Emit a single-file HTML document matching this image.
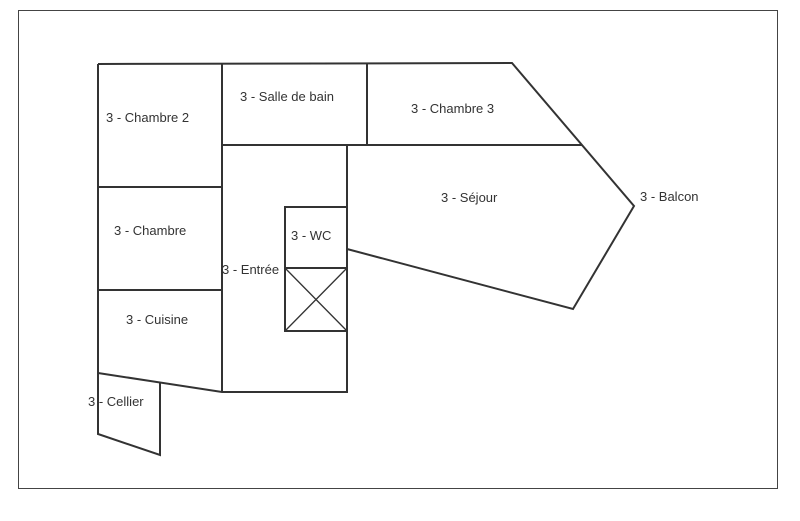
<!DOCTYPE html>
<html><head><meta charset="utf-8"><style>
html,body{margin:0;padding:0;background:#fff;}
svg{display:block;}
text{font-family:"Liberation Sans",sans-serif;font-size:13px;fill:#333;}
</style></head><body>
<svg width="800" height="521" viewBox="0 0 800 521">
<rect x="18.5" y="10.5" width="759" height="478" fill="none" stroke="#444" stroke-width="1"/>
<g fill="none" stroke="#333" stroke-width="2" stroke-linejoin="miter">
<path d="M98 64 L512 63 L634 206 L573 309 L347 249"/>
<path d="M98 64 L98 434 L160 455 L160 383"/>
<path d="M98 373 L222 392 L347 392 L347 145"/>
<path d="M222 64 L222 392"/>
<path d="M367 64 L367 145"/>
<path d="M222 145 L582 145"/>
<path d="M98 187 L222 187"/>
<path d="M98 290 L222 290"/>
<rect x="285" y="207" width="62" height="124"/>
<path d="M285 268 L347 268"/>
</g>
<g stroke="#333" stroke-width="1.3">
<path d="M285 268 L347 331 M347 268 L285 331"/>
</g>
<text x="106" y="122">3 - Chambre 2</text>
<text x="240" y="101">3 - Salle de bain</text>
<text x="411" y="113">3 - Chambre 3</text>
<text x="441" y="202">3 - Séjour</text>
<text x="640" y="201">3 - Balcon</text>
<text x="114" y="235">3 - Chambre</text>
<text x="291" y="240">3 - WC</text>
<text x="222" y="274">3 - Entrée</text>
<text x="126" y="324">3 - Cuisine</text>
<text x="88" y="406">3 - Cellier</text>
</svg>
</body></html>
